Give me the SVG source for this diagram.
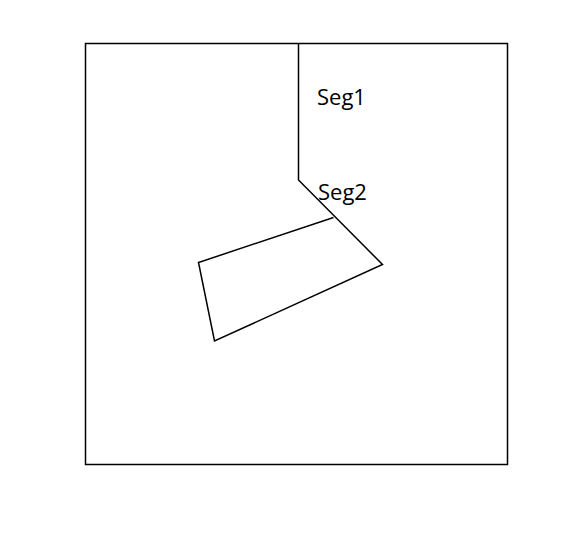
<svg xmlns="http://www.w3.org/2000/svg" width="573" height="544" viewBox="0 0 573 544">
<style>
.ln{fill:none;stroke:#000;stroke-width:1.5;stroke-linejoin:miter}
.lbl{font-family:"Open Sans","Liberation Sans",sans-serif;font-size:22px;fill:#000}
</style>
<rect width="573" height="544" fill="#fff"/>
<g id="frame"><rect class="ln" x="85.5" y="43.5" width="422" height="421"/></g>
<g id="connectors">
<polyline class="ln" points="298.5,43.5 298.5,180 382.5,264.5 214.5,341 198.5,262.5 333.5,217.5"/>
</g>
<g id="seg1"><text class="lbl" x="317" y="105">Seg1</text></g>
<g id="seg2"><text class="lbl" x="318" y="200">Seg2</text></g>
</svg>
